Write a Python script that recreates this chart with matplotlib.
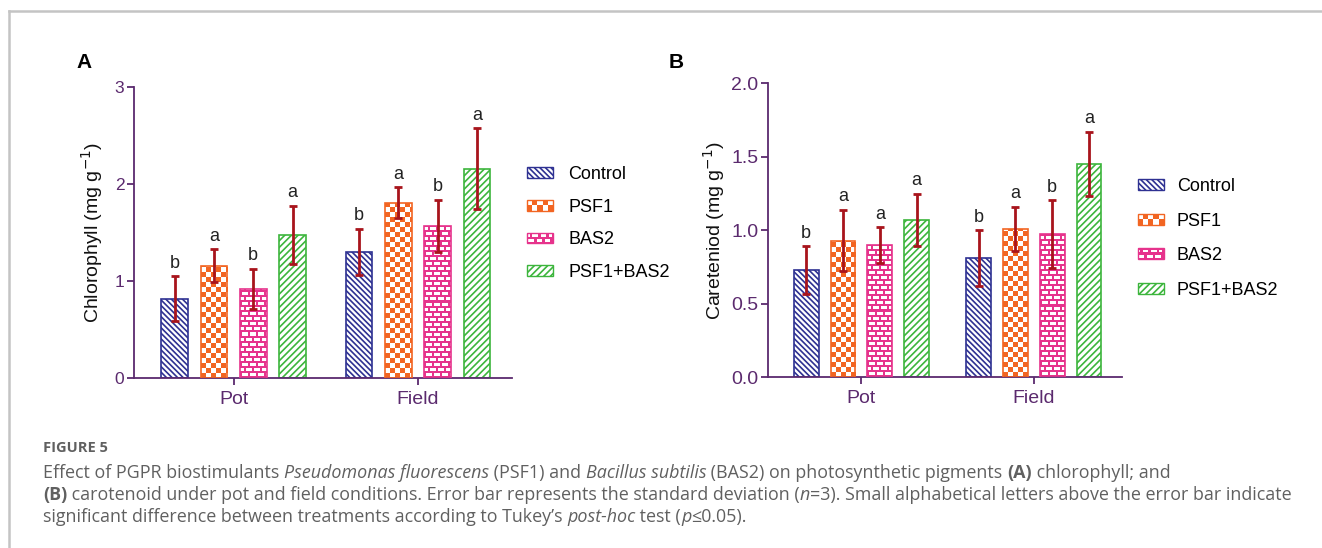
import numpy as np
import matplotlib
matplotlib.use("Agg")
import matplotlib.pyplot as plt
from matplotlib.patches import Rectangle
from matplotlib.lines import Line2D
from matplotlib.legend_handler import HandlerBase

groups = ["Pot", "Field"]
treatments = ["Control", "PSF1", "BAS2", "PSF1+BAS2"]

# chlorophyll (mg g-1), rows = treatments, cols = Pot, Field
chl_mean = [[0.82, 1.30], [1.16, 1.81], [0.92, 1.57], [1.48, 2.16]]
chl_sd = [[0.23, 0.24], [0.17, 0.16], [0.21, 0.27], [0.30, 0.42]]
chl_letters = [["b", "b"], ["a", "a"], ["b", "b"], ["a", "a"]]

# carotenoid (mg g-1)
car_mean = [[0.73, 0.81], [0.93, 1.01], [0.90, 0.975], [1.07, 1.45]]
car_sd = [[0.16, 0.19], [0.21, 0.15], [0.12, 0.23], [0.18, 0.22]]
car_letters = [["b", "b"], ["a", "a"], ["a", "b"], ["a", "a"]]

caption_head = "FIGURE 5"
caption_lines = [
    [("Effect of PGPR biostimulants ", "normal", "normal"),
     ("Pseudomonas fluorescens", "italic", "normal"),
     (" (PSF1) and ", "normal", "normal"),
     ("Bacillus subtilis", "italic", "normal"),
     (" (BAS2) on photosynthetic pigments ", "normal", "normal"),
     ("(A)", "normal", "bold"),
     (" chlorophyll; and", "normal", "normal")],
    [("(B)", "normal", "bold"),
     (" carotenoid under pot and field conditions. Error bar represents the standard deviation (", "normal", "normal"),
     ("n", "italic", "normal"),
     ("=3). Small alphabetical letters above the error bar indicate", "normal", "normal")],
    [("significant difference between treatments according to Tukey\u2019s ", "normal", "normal"),
     ("post-hoc", "italic", "normal"),
     (" test (", "normal", "normal"),
     ("p", "italic", "normal"),
     ("\u22640.05).", "normal", "normal")],
]

NAVY = "#2e3192"
ORANGE = "#f26522"
PINK = "#e6338c"
GREEN = "#3cb53c"
PURPLE = "#5b2a6e"
ERR = "#a8141c"

styles = [
    dict(kind="hatch", color=NAVY, hatch="\\\\\\\\\\\\"),
    dict(kind="checker", color=ORANGE),
    dict(kind="brick", color=PINK),
    dict(kind="hatch", color=GREEN, hatch="/////"),
]

plt.rcParams["font.family"] = ["Liberation Sans", "DejaVu Sans"]
plt.rcParams["hatch.linewidth"] = 1.2


def to_rgb(c):
    return np.array(matplotlib.colors.to_rgb(c))


def pattern(kind, color, w, h):
    jj, ii = np.meshgrid(np.arange(w), np.arange(h))
    col = to_rgb(color)
    img = np.ones((h, w, 3))
    if kind == "checker":
        mask = ((ii // 5) + (jj // 5)) % 2 == 0
    else:
        off = 4 * ((ii // 5) % 2)
        mask = (ii % 5 < 2) | ((jj + off) % 8 < 2)
    img[mask] = col
    return img


class HandlerPattern(HandlerBase):
    def create_artists(self, legend, orig_handle, xdescent, ydescent,
                       width, height, fontsize, trans):
        st = orig_handle.style
        x0, y0 = -xdescent, -ydescent
        arts = []
        if st["kind"] == "hatch":
            arts.append(Rectangle((x0, y0), width, height, facecolor="white",
                                  edgecolor=st["color"], hatch=st["hatch"], lw=1, transform=trans))
            return arts
        arts.append(Rectangle((x0, y0), width, height, facecolor="white",
                              edgecolor="none", transform=trans))
        if st["kind"] == "checker":
            nx, ny = 5, 2
            cw, ch = width / nx, height / ny
            for r in range(ny):
                for c in range(nx):
                    if (r + c) % 2 == 0:
                        arts.append(Rectangle((x0 + c * cw, y0 + r * ch), cw, ch,
                                              facecolor=st["color"], edgecolor="none", transform=trans))
        else:
            arts.append(Rectangle((x0, y0), width, height, facecolor=st["color"],
                                  edgecolor="none", transform=trans))
            bw, bh = width / 3.2, height / 2
            for r in range(2):
                off = 0 if r == 0 else bw / 2
                xs = x0 + off - bw
                while xs < x0 + width:
                    a = max(xs + 1, x0 + 1)
                    b = min(xs + bw - 1, x0 + width - 1)
                    if b > a:
                        arts.append(Rectangle((a, y0 + r * bh + 1), b - a, bh - 2,
                                              facecolor="white", edgecolor="none", transform=trans))
                    xs += bw
        arts.append(Rectangle((x0, y0), width, height, facecolor="none",
                              edgecolor=st["color"], lw=1, transform=trans))
        return arts


def panel(fig, rect, means, sds, letters, ylim, yticks, ylabel, tick_fs, label_x,
          leg_anchor, leg_pad, leg_space):
    ax = fig.add_axes(rect)
    x = np.arange(len(groups))
    step, width = 0.2135, 0.144
    ax.set_xlim(-0.54, 1.51)
    ax.set_ylim(*ylim)
    for k, st in enumerate(styles):
        pos = x + (k - 1.5) * step
        if st["kind"] == "hatch":
            bars = ax.bar(pos, means[k], width, facecolor="white", edgecolor=st["color"],
                          hatch=st["hatch"], lw=1.2, zorder=2)
        else:
            bars = ax.bar(pos, means[k], width, facecolor="white", edgecolor="none", zorder=2)
            for b in bars:
                (px0, py0) = ax.transData.transform((b.get_x(), 0))
                (px1, py1) = ax.transData.transform((b.get_x() + b.get_width(), b.get_height()))
                wpx, hpx = int(round(px1 - px0)), int(round(py1 - py0))
                im = ax.imshow(pattern(st["kind"], st["color"], wpx, hpx), origin="lower",
                               extent=(b.get_x(), b.get_x() + b.get_width(), 0, b.get_height()),
                               aspect="auto", interpolation="nearest", zorder=2)
                im.set_clip_path(b)
            ax.bar(pos, means[k], width, facecolor="none", edgecolor=st["color"], lw=1.2, zorder=3)
        ax.errorbar(pos, means[k], yerr=sds[k], fmt="none", ecolor=ERR, elinewidth=2,
                    capsize=3, capthick=2, zorder=4)
        for xi, m, s, l in zip(pos, means[k], sds[k], letters[k]):
            ax.annotate(l, (xi, m + s), xytext=(0, 6), textcoords="offset points",
                        ha="center", va="baseline", fontsize=13, color="#222222")
    ax.set_xlim(-0.54, 1.51)
    ax.set_ylim(*ylim)
    for s in ["top", "right"]:
        ax.spines[s].set_visible(False)
    for s in ["left", "bottom"]:
        ax.spines[s].set_color(PURPLE)
        ax.spines[s].set_linewidth(1.3)
    ax.set_yticks(yticks)
    ax.set_xticks(x)
    ax.set_xticklabels(groups, fontsize=14, color=PURPLE)
    ax.tick_params(axis="x", length=5, width=1.3, color=PURPLE, pad=4)
    ax.tick_params(axis="y", length=5, width=1.3, color=PURPLE, labelsize=tick_fs,
                   labelcolor=PURPLE, pad=2)
    ax.set_ylabel(ylabel, fontsize=14, color="#111111")
    ax.yaxis.set_label_coords(label_x, 0.5)

    handles = []
    for st in styles:
        h = Rectangle((0, 0), 1, 1)
        h.style = st
        handles.append(h)
    ax.legend(handles, treatments, handler_map={Rectangle: HandlerPattern()},
              loc="upper left", bbox_to_anchor=leg_anchor, bbox_transform=fig.transFigure,
              frameon=False, fontsize=13, handlelength=1.44, handleheight=0.55,
              handletextpad=leg_pad, labelspacing=leg_space, borderpad=0, borderaxespad=0)
    return ax


W, H = 1322, 548
fig = plt.figure(figsize=(W / 100, H / 100), dpi=100)


def fx(px):
    return px / W


def fy(py):
    return 1 - py / H


panel(fig, [fx(134), fy(378), fx(512 - 134), (378 - 87.3) / H], chl_mean, chl_sd, chl_letters,
      (0, 3), [0, 1, 2, 3], "Chlorophyll (mg g$^{-1}$)", 12.5, -0.077,
      (fx(527), fy(166)), 0.85, 0.87)
panel(fig, [fx(768.3), fy(377.3), fx(1121.7 - 768.3), 294 / H], car_mean, car_sd, car_letters,
      (0, 2), [0, 0.5, 1.0, 1.5, 2.0], "Careteniod (mg g$^{-1}$)", 14, -0.118,
      (fx(1137.7), fy(178)), 0.72, 0.97)
fig.axes[1].yaxis.set_major_formatter(matplotlib.ticker.FormatStrFormatter("%.1f"))

fig.text(fx(84), fy(63), "A", fontsize=15, fontweight="bold", ha="center", va="center")
fig.text(fx(676), fy(63), "B", fontsize=15, fontweight="bold", ha="center", va="center")

# frame around the figure
fig.add_artist(Line2D([fx(9), 1], [fy(11), fy(11)], color="#c4c4c4", lw=1.8))
fig.add_artist(Line2D([fx(9), fx(9)], [fy(11), 0], color="#c4c4c4", lw=1.8))

# caption
cap_font = ["Open Sans", "DejaVu Sans"]
CAPC = "#606060"
fig.text(fx(43), fy(448), caption_head, fontsize=10.5, fontweight="bold", color=CAPC,
         va="center", family=cap_font)
renderer = fig.canvas.get_renderer()
for li, parts in enumerate(caption_lines):
    xpos = 43
    ypos = 473 + li * 22
    for txt, style, weight in parts:
        t = fig.text(fx(xpos), fy(ypos), txt, fontsize=12.9, style=style, fontweight=weight,
                     color=CAPC, va="center", family=cap_font)
        xpos += t.get_window_extent(renderer).width

fig.savefig("out.png", dpi=100)
